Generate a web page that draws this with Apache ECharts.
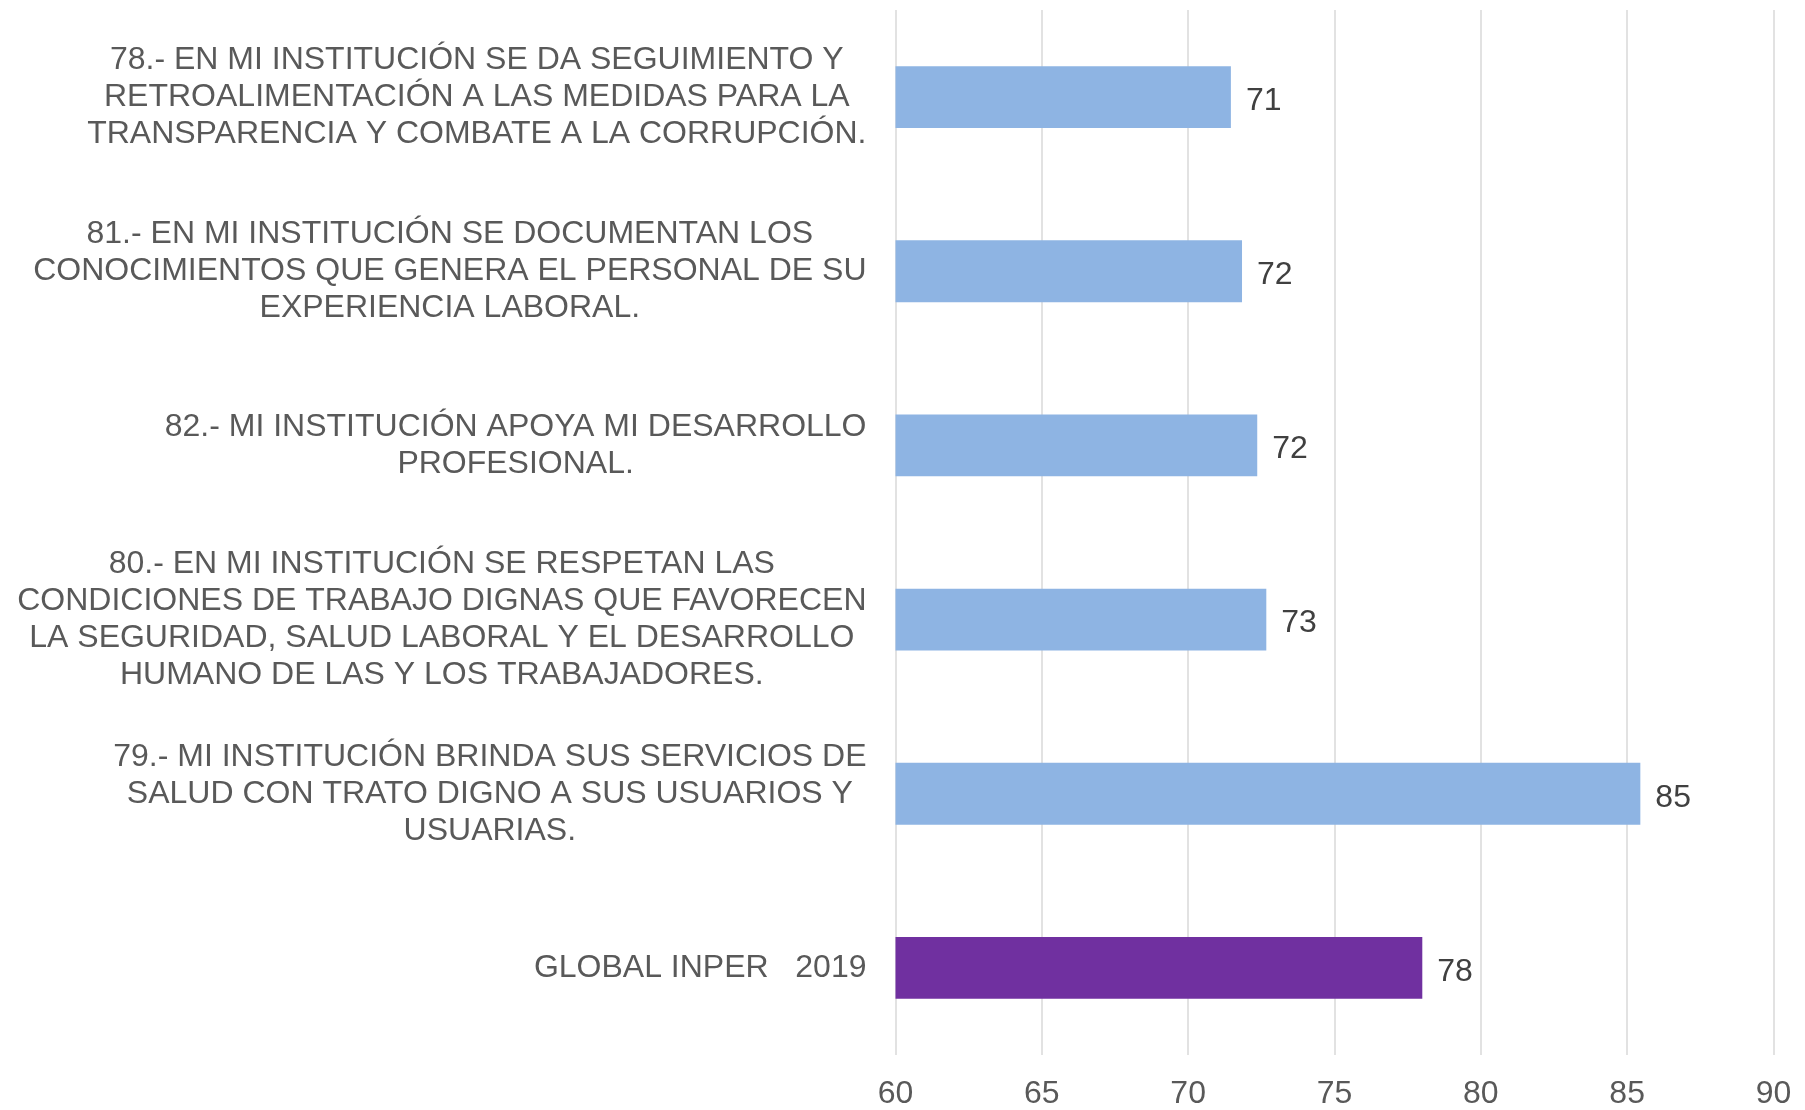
<!DOCTYPE html>
<html>
<head>
<meta charset="utf-8">
<script src="https://cdn.jsdelivr.net/npm/echarts@6/dist/echarts.min.js"></script>
<style>
  html, body { margin: 0; padding: 0; background: #ffffff; }
  #chart { width: 1805px; height: 1110px; }
</style>
</head>
<body>
<div id="chart"></div>
<script>
// Survey items (top to bottom) and their scores
const categories = [
  '78.- EN MI INSTITUCIÓN SE DA SEGUIMIENTO Y\nRETROALIMENTACIÓN A LAS MEDIDAS PARA LA\nTRANSPARENCIA Y COMBATE A LA CORRUPCIÓN.',
  '81.- EN MI INSTITUCIÓN SE DOCUMENTAN LOS\nCONOCIMIENTOS QUE GENERA EL PERSONAL DE SU\nEXPERIENCIA LABORAL.',
  '82.- MI INSTITUCIÓN APOYA MI DESARROLLO\nPROFESIONAL.',
  '80.- EN MI INSTITUCIÓN SE RESPETAN LAS\nCONDICIONES DE TRABAJO DIGNAS QUE FAVORECEN\nLA SEGURIDAD, SALUD LABORAL Y EL DESARROLLO\nHUMANO DE LAS Y LOS TRABAJADORES.',
  '79.- MI INSTITUCIÓN BRINDA SUS SERVICIOS DE\nSALUD CON TRATO DIGNO A SUS USUARIOS Y\nUSUARIAS.',
  'GLOBAL INPER   2019'
];
const scores = [71.46, 71.84, 72.36, 72.67, 85.45, 78.0];
const xTicks = { min: 60, max: 90, interval: 5 };

const FONT = '"Liberation Sans", Arial, Helvetica, sans-serif';
const ITEM_COLOR = '#8EB4E3';
const GLOBAL_COLOR = '#7030A0';

const chart = echarts.init(document.getElementById('chart'), null, { renderer: 'canvas' });

chart.setOption({
  animation: false,
  backgroundColor: '#ffffff',
  grid: { left: 895.5, right: 31.5, top: 10, bottom: 52, containLabel: false },
  xAxis: {
    type: 'value',
    min: xTicks.min,
    max: xTicks.max,
    interval: xTicks.interval,
    axisLine: { show: false },
    axisTick: { show: false },
    splitLine: { show: true, lineStyle: { color: '#D9D9D9', width: 1.5 } },
    axisLabel: {
      color: '#595959',
      fontFamily: FONT,
      fontSize: 32,
      margin: 23
    }
  },
  yAxis: {
    type: 'category',
    inverse: true,
    data: categories,
    axisLine: { show: false },
    axisTick: { show: false },
    axisLabel: {
      margin: 29,
      align: 'right',
      color: '#595959',
      fontFamily: FONT,
      fontSize: 32,
      lineHeight: 37,
      // each line centred inside a right-aligned block
      formatter: function (v) {
        return v.split('\n').map(function (l) { return '{c|' + l + '}'; }).join('\n');
      },
      rich: {
        c: {
          align: 'center',
          color: '#595959',
          fontFamily: FONT,
          fontSize: 32,
          lineHeight: 37
        }
      }
    }
  },
  series: [{
    type: 'bar',
    data: scores,
    barCategoryGap: '64.5%',
    itemStyle: {
      color: function (p) {
        return p.dataIndex === categories.length - 1 ? GLOBAL_COLOR : ITEM_COLOR;
      }
    },
    label: {
      show: true,
      position: 'right',
      distance: 15,
      offset: [0, 4],
      color: '#404040',
      fontFamily: FONT,
      fontSize: 32,
      formatter: function (p) { return Math.round(p.value).toString(); }
    }
  }]
});
</script>
</body>
</html>
